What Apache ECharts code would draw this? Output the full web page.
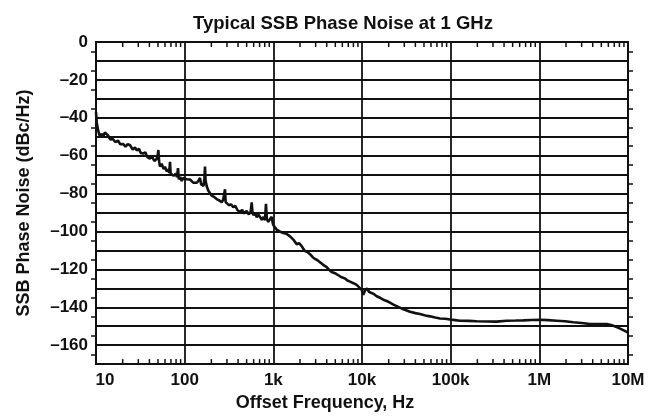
<!DOCTYPE html>
<html>
<head>
<meta charset="utf-8">
<title>Typical SSB Phase Noise at 1 GHz</title>
<script src="https://cdn.jsdelivr.net/npm/echarts@6/dist/echarts.min.js"></script>
<style>
  html, body { margin: 0; padding: 0; background: #fff; }
  #chart { width: 654px; height: 417px; }
</style>
</head>
<body>
<div id="chart"></div>
<script>
// offset frequency (Hz) and phase noise (dBc/Hz)
const freqHz = [
  10, 10.2, 10.6, 11.0, 11.6, 12.1, 12.6, 13.2, 13.7, 14.5, 15.5, 16.5, 17.7, 18.8,
  20.2, 21.5, 22.8, 24.2, 26, 27.5, 28.8, 30.5, 32, 33.9, 36, 38, 40.6, 43, 45.5,
  48, 49.5, 50.5, 51.5, 52.7, 55, 58, 60, 62.7, 65, 67, 68.3, 69.5, 72, 75, 77.8,
  80, 82, 84.1, 86, 89, 92.6, 96, 100.9, 105, 110, 114.8, 120, 125, 130.8, 137,
  143, 149, 153, 158, 163, 167, 169.5, 172, 177, 185, 192, 202, 215, 229.7, 245,
  261.6, 272, 285, 290, 298, 315, 335, 353, 372, 395, 420.7, 445, 470, 500, 530,
  555, 570, 583, 594, 620, 650, 680, 707, 740, 775, 805, 826, 845, 877, 915, 958,
  985, 1000, 1040, 1092, 1150, 1220, 1296, 1350, 1400, 1470, 1542, 1610, 1680, 1760, 1834,
  1950, 2089, 2180, 2276, 2350, 2430, 2591, 2680, 2780, 2951, 3050, 3150, 3360, 3500, 3650, 3999, 4250,
  4550, 4950, 5408, 5900, 6430, 6850, 7325, 8000, 8714, 9300, 9920, 10340, 10800,
  11380, 12000, 12850, 13700, 14640, 16000, 17390, 19000, 20700, 22600, 24610,
  26800, 29240, 32000, 34780, 40000, 45080, 52000, 58450, 67000, 75800, 87000,
  98200, 112000, 127400, 160000, 196400, 260000, 330000, 428000, 540000, 659000,
  820000, 1016000, 1250000, 1570000, 1950000, 2420000, 3000000, 3730000, 4700000,
  5750000, 6600000, 7460000, 8500000, 9660000, 10000000
];
const noiseDb = [
  -37, -42.6, -46.9, -49.5, -48.6, -49.8, -47.8, -48.5, -49.3, -51.5, -51.2, -52.8, -52, -54,
  -53.8, -55.2, -53.9, -54.5, -56.8, -55.6, -57.2, -56.4, -58.6, -58.9, -58.2, -60.8, -61.5, -60.6, -62.8,
  -61.9, -60.2, -57, -63, -65.7, -64.2, -67.1, -65.8, -68.3, -67.2, -69.1, -63.2, -69.5, -68.8, -70.6, -70.9,
  -69.5, -71.4, -66.6, -72.5, -71.2, -73.4, -71.8, -70.9, -72.4, -71.5, -72.6, -71.9, -74.2, -73.4, -74.3,
  -73.2, -71.7, -75, -74.6, -76, -72, -65.7, -73, -76, -78.5, -79.6, -81.1, -81.8, -82.9, -83.6,
  -84.6, -83.2, -77.7, -84.5, -85.4, -86.1, -85.8, -87.2, -86.5, -88.8, -89.7, -88.6, -90.5, -89.2, -91,
  -89.5, -84.6, -90.2, -91.4, -90.1, -92.5, -91.2, -92.3, -93.8, -92.4, -94, -85.4, -93.5, -94.9, -93.6, -92.3,
  -95.5, -96.6, -97.3, -99.1, -98.6, -100.3, -100.8, -99.9, -101.2, -102.1, -102.6, -103.1, -104.3, -105, -106.8,
  -106.1, -107.7, -109.2, -110.3, -109.6, -110.9, -112, -111.4, -113.6, -114.5, -113.9, -115.2, -116.2, -117.1, -117.6, -118.8, -120.2,
  -121.4, -122, -123.1, -124.2, -124.8, -125.9, -126.5, -127.3, -128.2, -129.5, -130.8, -133.4, -131.2,
  -130, -131.8, -132.5, -133.1, -134.2, -135, -136, -136.7, -137.6, -138.6, -139.4,
  -140.2, -141.1, -141.7, -142.4, -143.1, -143.6, -144.3, -144.8, -145.4, -145.9, -146.1,
  -146.5, -146.8, -147.1, -147.2, -147.4, -147.5, -147.6, -147.1, -147, -146.9,
  -146.7, -146.6, -146.8, -147.1, -147.4, -147.9, -148.3, -148.8, -148.8,
  -148.8, -149.5, -150.5, -151.7, -153, -153.4
];

// tick labels
const xTickLabels = ['10', '100', '1k', '10k', '100k', '1M', '10M'];
const yTickLabels = ['0', '–20', '–40', '–60', '–80', '–100', '–120', '–140', '–160'];
// minor ticks of the log axis (2..9 per decade)
const minorTicksHz = [
  20, 30, 40, 50, 60, 70, 80, 90,
  200, 300, 400, 500, 600, 700, 800, 900,
  2000, 3000, 4000, 5000, 6000, 7000, 8000, 9000,
  20000, 30000, 40000, 50000, 60000, 70000, 80000, 90000,
  200000, 300000, 400000, 500000, 600000, 700000, 800000, 900000,
  2000000, 3000000, 4000000, 5000000, 6000000, 7000000, 8000000, 9000000
];

const FONT = 'Liberation Sans';
const INK = '#111';

const chart = echarts.init(document.getElementById('chart'));

chart.setOption({
  backgroundColor: '#fff',
  animation: false,
  title: {
    text: 'Typical SSB Phase Noise at 1 GHz',
    left: 188,
    top: 9,
    textStyle: { fontFamily: FONT, fontSize: 18.5, fontWeight: 'bold', color: INK }
  },
  grid: {
    left: 96, right: 26, top: 42, bottom: 44,
    show: true, borderColor: INK, borderWidth: 2
  },
  xAxis: [{
    type: 'log',
    logBase: 10,
    min: 10,
    max: 10000000,
    interval: 1,
    name: 'Offset Frequency, Hz',
    nameLocation: 'middle',
    nameGap: 29,
    nameTextStyle: {
      fontFamily: FONT, fontSize: 18, fontWeight: 'bold', color: INK,
      padding: [0, 74, 0, 0]
    },
    axisLine: { show: true, lineStyle: { color: INK, width: 2 } },
    axisTick: { show: false },
    axisLabel: {
      margin: 8,
      fontFamily: FONT, fontSize: 17, fontWeight: 'bold', color: INK,
      formatter: function (v) {
        const i = Math.round(Math.log10(v)) - 1;
        return i === 0 ? '{first|' + xTickLabels[0] + '}' : xTickLabels[i];
      },
      rich: {
        first: { fontFamily: FONT, fontSize: 17, fontWeight: 'bold', color: INK, padding: [0, 0, 0, 18] }
      }
    },
    splitLine: { show: true, lineStyle: { color: INK, width: 1.8 } }
  }],
  yAxis: [{
    type: 'value',
    min: -170,
    max: 0,
    interval: 10,
    name: 'SSB Phase Noise (dBc/Hz)',
    nameLocation: 'middle',
    nameGap: 63,
    nameRotate: 90,
    nameTextStyle: { fontFamily: FONT, fontSize: 18, fontWeight: 'bold', color: INK },
    axisLine: { show: true, lineStyle: { color: INK, width: 2 } },
    axisTick: { show: false },
    minorTick: { show: true, splitNumber: 2, length: 5, lineStyle: { color: INK, width: 1.5 } },
    axisLabel: {
      margin: 8,
      fontFamily: FONT, fontSize: 17, fontWeight: 'bold', color: INK,
      formatter: function (v) {
        if (v % 20 !== 0) return '';
        return yTickLabels[Math.round(-v / 20)] || '';
      }
    },
    splitLine: { show: true, lineStyle: { color: INK, width: 1.8 } }
  }, {
    type: 'value',
    position: 'right',
    min: -170,
    max: 0,
    interval: 10,
    axisLine: { show: false },
    axisTick: { show: false },
    minorTick: { show: true, splitNumber: 2, length: 5, lineStyle: { color: INK, width: 1.5 } },
    axisLabel: { show: false },
    splitLine: { show: false }
  }],
  series: [{
    name: 'SSB Phase Noise',
    type: 'line',
    data: freqHz.map((f, i) => [f, noiseDb[i]]),
    showSymbol: false,
    symbol: 'none',
    smooth: false,
    lineStyle: { color: INK, width: 2.6 },
    z: 5
  }, {
    // minor ticks on bottom and top edges of the log axis
    type: 'custom',
    silent: true,
    z: 6,
    data: minorTicksHz.map(f => [f]),
    renderItem: function (params, api) {
      const b = api.coord([api.value(0), -170]);
      const t = api.coord([api.value(0), 0]);
      const style = { stroke: INK, lineWidth: 1.5 };
      return {
        type: 'group',
        children: [
          { type: 'line', shape: { x1: b[0], y1: b[1], x2: b[0], y2: b[1] - 5 }, style: style },
          { type: 'line', shape: { x1: t[0], y1: t[1], x2: t[0], y2: t[1] + 5 }, style: style }
        ]
      };
    }
  }]
});
</script>
</body>
</html>
